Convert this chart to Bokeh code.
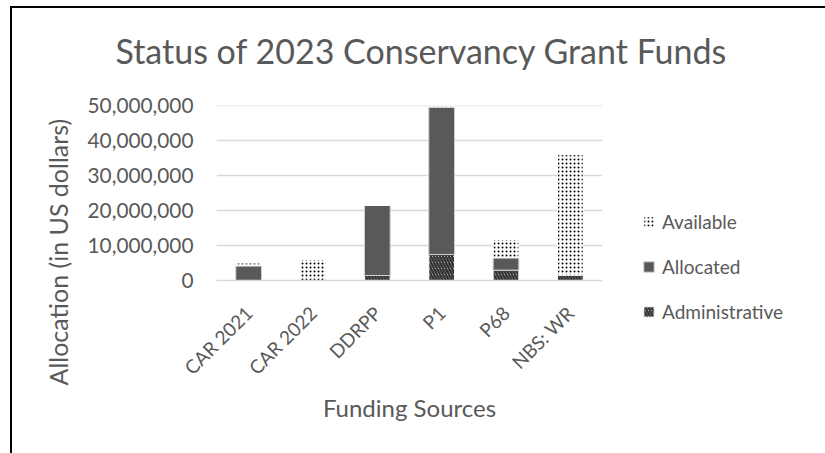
import math
from bokeh.plotting import figure
from bokeh.layouts import column
from bokeh.models import (ColumnDataSource, FactorRange, Range1d, FixedTicker,
                          NumeralTickFormatter, Legend, LegendItem, Title)
from bokeh.embed import file_html
from bokeh.resources import INLINE

# ---- data ----
sources = ["CAR 2021", "CAR 2022", "DDRPP", "P1", "P68", "NBS: WR"]
administrative = [0, 0, 1_430_000, 7_440_000, 2_960_000, 1_530_000]
allocated = [4_200_000, 0, 20_040_000, 42_160_000, 3_530_000, 0]
available = [800_000, 6_000_000, 0, 400_000, 5_250_000, 34_440_000]
y_ticks = [0, 10_000_000, 20_000_000, 30_000_000, 40_000_000, 50_000_000]
series = ["Administrative", "Allocated", "Available"]

FONT = "Lato"
GREY = "#595959"

src = ColumnDataSource(dict(source=sources, Administrative=administrative,
                            Allocated=allocated, Available=available))

p = figure(x_range=FactorRange(*sources), y_range=Range1d(0, 50_050_000),
           frame_width=386, frame_height=175,
           output_backend="svg", toolbar_location=None,
           min_border_left=204, min_border_right=215, min_border_top=98,
           min_border_bottom=182)
p.styles = {"margin-top": "-15px"}
p.border_fill_color = None
p.outline_line_color = None

renderers = p.vbar_stack(series, x="source", width=0.4, source=src,
                         fill_color=["white", GREY, "white"],
                         line_color=["white", "#d0d0d0", "white"],
                         line_width=1,
                         hatch_pattern=["\\", " ", "."],
                         hatch_color=["#333333", GREY, "#000000"],
                         hatch_scale=[6, 6, 4],
                         hatch_weight=[2.5, 1, 1])
r_ad, r_al, r_av = renderers

legend = Legend(items=[LegendItem(label="Available", renderers=[r_av]),
                       LegendItem(label="Allocated", renderers=[r_al]),
                       LegendItem(label="Administrative", renderers=[r_ad])],
                location=(40, -43))
legend.border_line_color = None
legend.background_fill_alpha = 0
legend.padding = 0
legend.margin = 0
legend.spacing = 22
legend.glyph_height = 13
legend.glyph_width = 13
legend.label_height = 20
legend.label_standoff = 7
legend.label_text_font = FONT
legend.label_text_font_size = "19px"
legend.label_text_color = GREY
p.add_layout(legend, "right")

# title
p.title.text = "Status of 2023 Conservancy Grant Funds"
p.title.align = "left"
p.title.offset = -101
p.title.text_font = FONT
p.title.text_font_size = "34px"
p.title.text_font_style = "normal"
p.title.text_color = GREY
p.title.standoff = 69

# y axis label as a side title
ylab = Title(text="Allocation (in  US dollars)", align="left", offset=-105,
             text_font=FONT, text_font_size="25px", text_font_style="normal",
             text_color=GREY, standoff=24)
p.add_layout(ylab, "left")

# axes
p.yaxis.ticker = FixedTicker(ticks=y_ticks)
p.yaxis.formatter = NumeralTickFormatter(format="0,0")
p.yaxis.axis_line_color = None
p.yaxis.major_tick_line_color = None
p.yaxis.minor_tick_line_color = None
p.yaxis.major_tick_out = 0
p.yaxis.major_tick_in = 0
p.yaxis.major_label_standoff = 23
p.yaxis.major_label_text_font = FONT
p.yaxis.major_label_text_font_size = "20.8px"
p.yaxis.major_label_text_color = GREY

p.xaxis.axis_line_color = "#d9d9d9"
p.xaxis.axis_line_width = 1.3
p.xaxis.major_tick_line_color = None
p.xaxis.minor_tick_line_color = None
p.xaxis.major_tick_out = 0
p.xaxis.major_tick_in = 0
p.xaxis.major_label_orientation = math.pi / 4
p.xaxis.major_label_standoff = 29
p.xaxis.major_label_text_font = FONT
p.xaxis.major_label_text_font_size = "19px"
p.xaxis.major_label_text_color = GREY
p.xaxis.axis_label = "Funding Sources"
p.xaxis.axis_label_text_font = FONT
p.xaxis.axis_label_text_font_size = "24px"
p.xaxis.axis_label_text_font_style = "normal"
p.xaxis.axis_label_text_color = GREY
p.xaxis.axis_label_standoff = 3

p.xgrid.grid_line_color = None
p.ygrid.grid_line_color = "#d9d9d9"
p.ygrid.grid_line_width = 1.3
p.x_range.range_padding = 0

wrap = column(p)
wrap.styles = {"margin-left": "10px", "margin-top": "6px",
               "border-left": "2px solid black", "border-top": "2px solid black"}

open("out.html", "w").write(file_html(wrap, INLINE))
